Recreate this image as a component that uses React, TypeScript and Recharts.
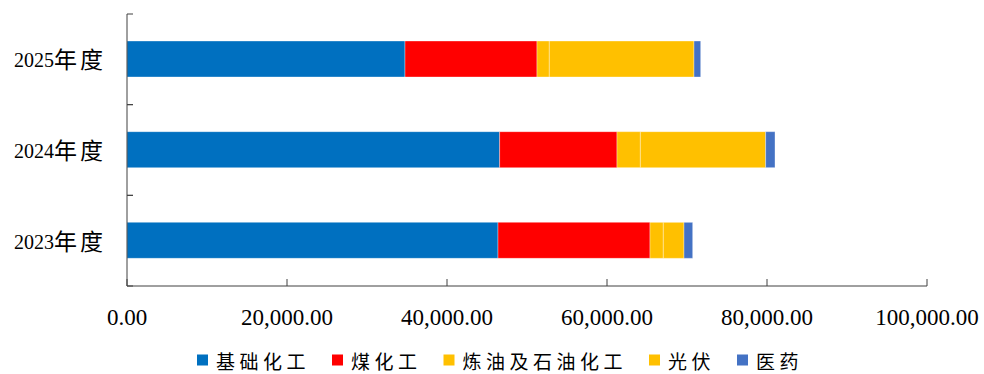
import { Bar, BarChart, Legend, XAxis, YAxis } from "recharts"

const years = ["2025年度", "2024年度", "2023年度"]
const jichu = [34750, 46580, 46375]
const meihua = [16500, 14670, 19000]
const lianyou = [1540, 2920, 1665]
const guangfu = [18085, 15660, 2585]
const yiyao = [835, 1170, 1085]
const xTicks = [0, 20000, 40000, 60000, 80000, 100000]

const series = [
  { key: "基础化工", color: "#0070C0" },
  { key: "煤化工", color: "#FF0000" },
  { key: "炼油及石油化工", color: "#FFC000" },
  { key: "光伏", color: "#FFC000" },
  { key: "医药", color: "#4472C4" },
]

const data = years.map((year, i) => ({
  year,
  基础化工: jichu[i],
  煤化工: meihua[i],
  炼油及石油化工: lianyou[i],
  光伏: guangfu[i],
  医药: yiyao[i],
}))

const serif = "'Times New Roman', 'Liberation Serif', 'Noto Sans CJK SC', serif"
const axisColor = "#404040"

const fmt = (v: number) =>
  v.toLocaleString("en-US", { minimumFractionDigits: 2, maximumFractionDigits: 2 })

function XTick(props: any) {
  const { x, y, payload } = props
  return (
    <g>
      <line x1={x} x2={x} y1={y} y2={y - 7} stroke={axisColor} strokeWidth={1} />
      <text
        x={x}
        y={y + 31}
        textAnchor="middle"
        dominantBaseline="central"
        fontFamily={serif}
        fontSize={23}
        fill="#000"
      >
        {fmt(payload.value)}
      </text>
    </g>
  )
}

function YTick(props: any) {
  const { x, y, payload } = props
  const half = payload.offset || 45.3
  const label = String(payload.value)
  return (
    <g>
      <line x1={x} x2={x + 6} y1={y - half} y2={y - half} stroke={axisColor} />
      <line x1={x} x2={x + 6} y1={y + half} y2={y + half} stroke={axisColor} />
      <text
        x={x - 21}
        y={y + 1}
        textAnchor="end"
        dominantBaseline="central"
        fontFamily={serif}
        fontSize={20}
        fill="#000"
      >
        <tspan>{label.slice(0, 4)}</tspan>
        <tspan fontSize={23} letterSpacing={3}>{label.slice(4)}</tspan>
      </text>
    </g>
  )
}

function LegendBox() {
  let x = 197
  return (
    <svg width={984} height={28} style={{ display: "block" }}>
      {series.map((s) => {
        const x0 = x
        x += 11 + 8 + s.key.length * 23.5 + 22
        return (
          <g key={s.key}>
            <rect x={x0} y={8.5} width={11} height={11} fill={s.color} />
            <text
              x={x0 + 19}
              y={14}
              dominantBaseline="central"
              fontFamily="'Noto Sans CJK SC', sans-serif"
              fontSize={19}
              letterSpacing={4.5}
              fill="#000"
            >
              {s.key}
            </text>
          </g>
        )
      })}
    </svg>
  )
}

export default function App() {
  return (
    <div style={{ position: "absolute", left: 0, top: 0, background: "#fff" }}>
      <BarChart
        width={984}
        height={374}
        data={data}
        layout="vertical"
        margin={{ top: 14, right: 57, bottom: 0, left: 0 }}
        barSize={36}
      >
        <XAxis
          type="number"
          domain={[0, 100000]}
          ticks={xTicks}
          interval={0}
          height={60}
          tickLine={false}
          tickSize={0}
          tickMargin={0}
          axisLine={{ stroke: axisColor }}
          tick={<XTick />}
        />
        <YAxis
          type="category"
          dataKey="year"
          width={127}
          tickLine={false}
          tickSize={0}
          tickMargin={0}
          axisLine={{ stroke: axisColor }}
          tick={<YTick />}
        />
        <Legend
          verticalAlign="bottom"
          height={28}
          wrapperStyle={{ left: 0, width: 984 }}
          content={<LegendBox />}
        />
        {series.map((s) => (
          <Bar
            key={s.key}
            dataKey={s.key}
            stackId="a"
            fill={s.color}
            stroke="rgba(255,255,255,0.35)"
            strokeWidth={1}
            isAnimationActive={false}
          />
        ))}
      </BarChart>
    </div>
  )
}
